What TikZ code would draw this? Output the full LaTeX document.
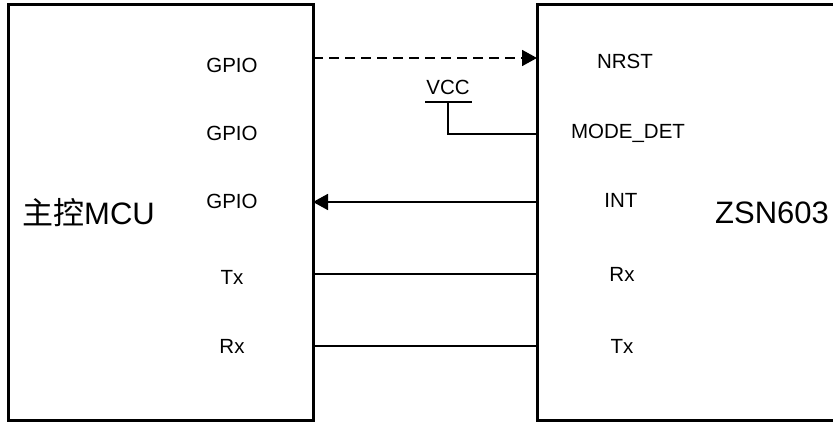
\documentclass[tikz,border=0pt]{standalone}
\usepackage{fontspec}
\setmainfont{Liberation Sans}
\newfontfamily\cjk{Noto Sans CJK SC}
\usetikzlibrary{arrows.meta}
\begin{document}
\begin{tikzpicture}[x=1pt,y=1pt,
  chip/.style={draw,line width=3pt,minimum width=305pt,minimum height=416pt,anchor=south west,inner sep=0pt,outer sep=0pt},
  pin/.style={font=\fontsize{20.5}{24}\selectfont,inner sep=0pt},
  title/.style={font=\fontsize{31}{36}\selectfont,inner sep=0pt,anchor=west},
  wire/.style={line width=1.7pt},
  dwire/.style={wire,dash pattern=on 10pt off 6pt},
  tip/.style={-{Triangle[length=15pt,width=16pt]}}]
\useasboundingbox (0,0) rectangle (833,423);
\node[chip] (mcu) at (8,2) {};
\node[chip,minimum width=320pt] (zsn) at (537,2) {};
\node[title] (mcut) at (22,210) {{\cjk 主控}MCU};
\node[title] (zsnt) at (715,210) {ZSN603};
% pin labels, MCU side
\node[pin] (g1) at (232,358) {GPIO};
\node[pin] (g2) at (232,290) {GPIO};
\node[pin] (g3) at (232,222) {GPIO};
\node[pin] (mtx) at (232,146) {Tx};
\node[pin] (mrx) at (232,77) {Rx};
% pin labels, ZSN603 side
\node[pin] (nrst) at (625,362) {NRST};
\node[pin] (mode) at (628,290) {MODE\_DET};
\node[pin] (int) at (621,223) {INT};
\node[pin] (zrx) at (622,149) {Rx};
\node[pin] (ztx) at (622,77) {Tx};
% wire levels
\coordinate (w1) at (0,365);
\coordinate (w2) at (0,289);
\coordinate (w3) at (0,221);
\coordinate (w4) at (0,149);
\coordinate (w5) at (0,77);
% VCC
\node[pin] (vcc) at (448,336) {VCC};
\coordinate (vbl) at (425,321);
\coordinate (vbr) at (472,321);
\coordinate (vb) at (448,321);
\coordinate (vk) at (448,289);
\draw[wire] (vbl) -- (vbr);
\draw[wire] (vb) -- (vk) -- (zsn.west |- w2);
% connectors
\draw[dwire,tip] (mcu.east |- w1) -- (zsn.west |- w1);
\draw[wire,tip] (zsn.west |- w3) -- (mcu.east |- w3);
\draw[wire] (mcu.east |- w4) -- (zsn.west |- w4);
\draw[wire] (mcu.east |- w5) -- (zsn.west |- w5);
\end{tikzpicture}
\end{document}
